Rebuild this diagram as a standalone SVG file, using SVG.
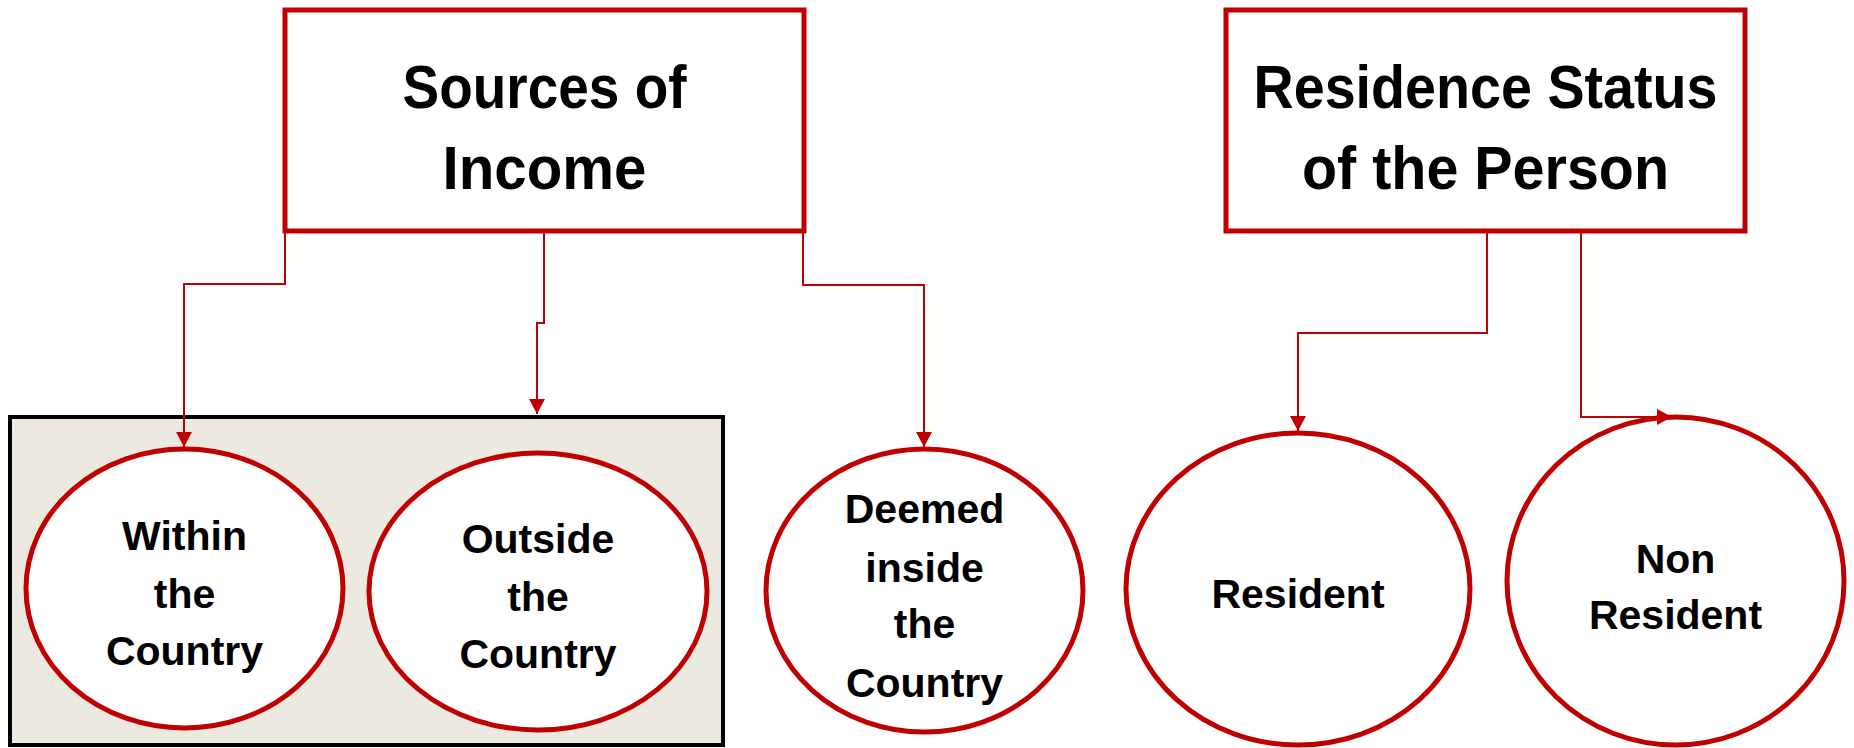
<svg xmlns="http://www.w3.org/2000/svg" width="1854" height="748" viewBox="0 0 1854 748">
<defs>
<style>
.hbox{fill:#FFFFFF;stroke:#C00000;stroke-width:5}
.oval{fill:#FFFFFF;stroke:#C00000;stroke-width:5}
.head{font-family:"Liberation Sans",Arial,sans-serif;font-weight:bold;font-size:61px;fill:#000000;text-anchor:middle}
.lbl{font-family:"Liberation Sans",Arial,sans-serif;font-weight:bold;font-size:41px;fill:#000000;text-anchor:middle}
.conn{fill:none;stroke:#C00000;stroke-width:2}
</style>
<marker id="arr" markerUnits="userSpaceOnUse" markerWidth="16" markerHeight="16" viewBox="0 0 16 16" refX="15" refY="8" orient="auto">
<path d="M0,0 L15,8 L0,16 Z" fill="#C00000"/>
</marker>
</defs>
<rect width="1854" height="748" fill="#FFFFFF"/>

<g id="group-box">
<rect x="10" y="417" width="713" height="328" fill="#ECEAE0" stroke="#000000" stroke-width="4"/>
</g>

<g id="sources-of-income">
<rect class="hbox" x="285" y="10" width="519" height="221"/>
<text class="head" x="544.5" y="108" textLength="284" lengthAdjust="spacingAndGlyphs">Sources of</text>
<text class="head" x="544.5" y="189" textLength="204" lengthAdjust="spacingAndGlyphs">Income</text>
</g>

<g id="residence-status">
<rect class="hbox" x="1226" y="10" width="519" height="221"/>
<text class="head" x="1485.5" y="108" textLength="464" lengthAdjust="spacingAndGlyphs">Residence Status</text>
<text class="head" x="1485.5" y="189" textLength="367" lengthAdjust="spacingAndGlyphs">of the Person</text>
</g>

<g id="within">
<ellipse class="oval" cx="184.5" cy="588.5" rx="158.5" ry="139.5"/>
<text class="lbl" x="184.5" y="550">Within</text>
<text class="lbl" x="184.5" y="608">the</text>
<text class="lbl" x="184.5" y="665">Country</text>
</g>

<g id="outside">
<ellipse class="oval" cx="538" cy="591.5" rx="169" ry="138.5"/>
<text class="lbl" x="538" y="553">Outside</text>
<text class="lbl" x="538" y="611">the</text>
<text class="lbl" x="538" y="668">Country</text>
</g>

<g id="deemed">
<ellipse class="oval" cx="924.5" cy="590.5" rx="158.5" ry="141.5"/>
<text class="lbl" x="924.5" y="523">Deemed</text>
<text class="lbl" x="924.5" y="582">inside</text>
<text class="lbl" x="924.5" y="638">the</text>
<text class="lbl" x="924.5" y="697">Country</text>
</g>

<g id="resident">
<ellipse class="oval" cx="1298" cy="589" rx="172" ry="156"/>
<text class="lbl" x="1298" y="608">Resident</text>
</g>

<g id="non-resident">
<ellipse class="oval" cx="1675.5" cy="581" rx="168.5" ry="164"/>
<text class="lbl" x="1675.5" y="573">Non</text>
<text class="lbl" x="1675.5" y="629">Resident</text>
</g>

<g id="connectors">
<path class="conn" d="M285,233 V284 H184 V447" marker-end="url(#arr)"/>
<path class="conn" d="M544,233 V323 H537 V414" marker-end="url(#arr)"/>
<path class="conn" d="M803,233 V285 H924 V447" marker-end="url(#arr)"/>
<path class="conn" d="M1487,233 V333 H1298 V431" marker-end="url(#arr)"/>
<path class="conn" d="M1581,233 V417 H1672" marker-end="url(#arr)"/>
</g>
</svg>
